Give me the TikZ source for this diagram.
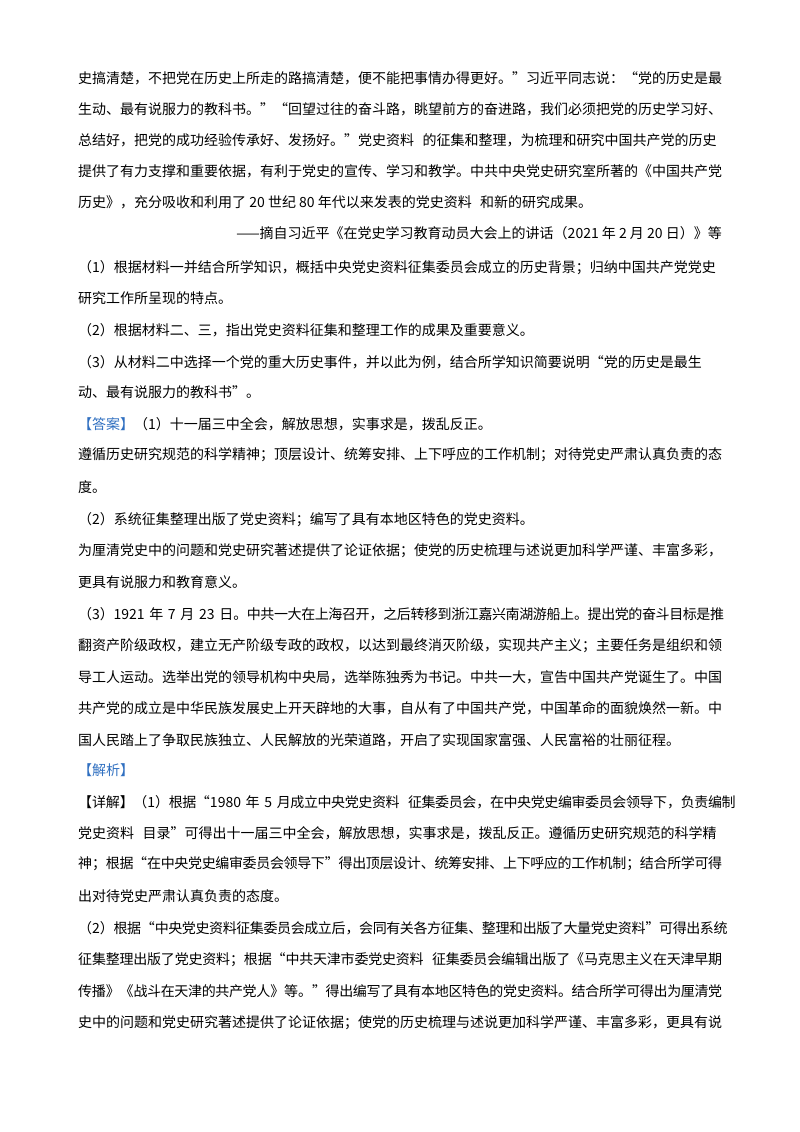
\documentclass[tikz,border=0pt]{standalone}
\usepackage{fontspec}
\usepackage{xcolor}
\setmainfont{Noto Sans CJK SC}
\definecolor{ansblue}{HTML}{2F6FC0}
\XeTeXlinebreaklocale "zh"
\XeTeXlinebreakskip=0pt plus 4pt minus 0.4pt
\XeTeXlinebreakpenalty=10000
\tikzset{full/.style={anchor=west,inner sep=0pt,text width=644pt,font=\fontsize{14}{16}\selectfont},
part/.style={anchor=west,inner sep=0pt,font=\fontsize{14}{16}\selectfont}}
\newcommand\fl[3]{\node[full] (#1) at (78,#2) {\parfillskip=0pt\relax #3};}
\newcommand\pl[3]{\node[part] (#1) at (78,#2) {#3};}
\newcommand\gap{\kern0.6em\relax}
\begin{document}
\begin{tikzpicture}[x=1pt,y=-1pt]
\useasboundingbox (0,0) rectangle (800,1132);
\fl{a1}{78}{史搞清楚，不把党在历史上所走的路搞清楚，便不能把事情办得更好。”习近平同志说：“党的历史是最}
\fl{a2}{109}{生动、最有说服力的教科书。”“回望过往的奋斗路，眺望前方的奋进路，我们必须把党的历史学习好、}
\fl{a3}{140}{总结好，把党的成功经验传承好、发扬好。”党史资料\gap 的征集和整理，为梳理和研究中国共产党的历史}
\fl{a4}{171}{提供了有力支撑和重要依据，有利于党史的宣传、学习和教学。中共中央党史研究室所著的《中国共产党}
\pl{a5}{202}{历史》，充分吸收和利用了~20~世纪~80~年代以来发表的党史资料\gap 和新的研究成果。}
\node[part,anchor=east] (a6) at (722,233) {——摘自习近平《在党史学习教育动员大会上的讲话（2021~年~2~月~20~日）》等};
\fl{q1}{268}{（1）根据材料一并结合所学知识，概括中央党史资料征集委员会成立的历史背景；归纳中国共产党党史}
\pl{q1b}{298}{研究工作所呈现的特点。}
\pl{q2}{330}{（2）根据材料二、三，指出党史资料征集和整理工作的成果及重要意义。}
\fl{q3}{362}{（3）从材料二中选择一个党的重大历史事件，并以此为例，结合所学知识简要说明“党的历史是最生}
\pl{q3b}{392}{动、最有说服力的教科书”。}
\pl{d1}{424}{\textcolor{ansblue}{【答案】}（1）十一届三中全会，解放思想，实事求是，拨乱反正。}
\fl{d2}{455}{遵循历史研究规范的科学精神；顶层设计、统筹安排、上下呼应的工作机制；对待党史严肃认真负责的态}
\pl{d3}{487}{度。}
\pl{d4}{520}{（2）系统征集整理出版了党史资料；编写了具有本地区特色的党史资料。}
\fl{d5}{551}{为厘清党史中的问题和党史研究著述提供了论证依据；使党的历史梳理与述说更加科学严谨、丰富多彩，}
\pl{d6}{582}{更具有说服力和教育意义。}
\fl{d7}{614}{（3）1921~年~7~月~23~日。中共一大在上海召开，之后转移到浙江嘉兴南湖游船上。提出党的奋斗目标是推}
\fl{d8}{646}{翻资产阶级政权，建立无产阶级专政的政权，以达到最终消灭阶级，实现共产主义；主要任务是组织和领}
\fl{d9}{677}{导工人运动。选举出党的领导机构中央局，选举陈独秀为书记。中共一大，宣告中国共产党诞生了。中国}
\fl{d10}{708}{共产党的成立是中华民族发展史上开天辟地的大事，自从有了中国共产党，中国革命的面貌焕然一新。中}
\pl{d11}{740}{国人民踏上了争取民族独立、人民解放的光荣道路，开启了实现国家富强、人民富裕的壮丽征程。}
\pl{j0}{770}{\textcolor{ansblue}{【解析】}}
\fl{j1}{802}{【详解】（1）根据“1980~年~5~月成立中央党史资料\gap 征集委员会，在中央党史编审委员会领导下，负责编制}
\fl{j2}{833}{党史资料\gap 目录”可得出十一届三中全会，解放思想，实事求是，拨乱反正。遵循历史研究规范的科学精}
\fl{j3}{864}{神；根据“在中央党史编审委员会领导下”得出顶层设计、统筹安排、上下呼应的工作机制；结合所学可得}
\pl{j4}{896}{出对待党史严肃认真负责的态度。}
\fl{j5}{928}{（2）根据“中央党史资料征集委员会成立后，会同有关各方征集、整理和出版了大量党史资料”可得出系统}
\fl{j6}{960}{征集整理出版了党史资料；根据“中共天津市委党史资料\gap 征集委员会编辑出版了《马克思主义在天津早期}
\fl{j7}{991}{传播》《战斗在天津的共产党人》等。”得出编写了具有本地区特色的党史资料。结合所学可得出为厘清党}
\fl{j8}{1023}{史中的问题和党史研究著述提供了论证依据；使党的历史梳理与述说更加科学严谨、丰富多彩，更具有说}
\end{tikzpicture}
\end{document}
